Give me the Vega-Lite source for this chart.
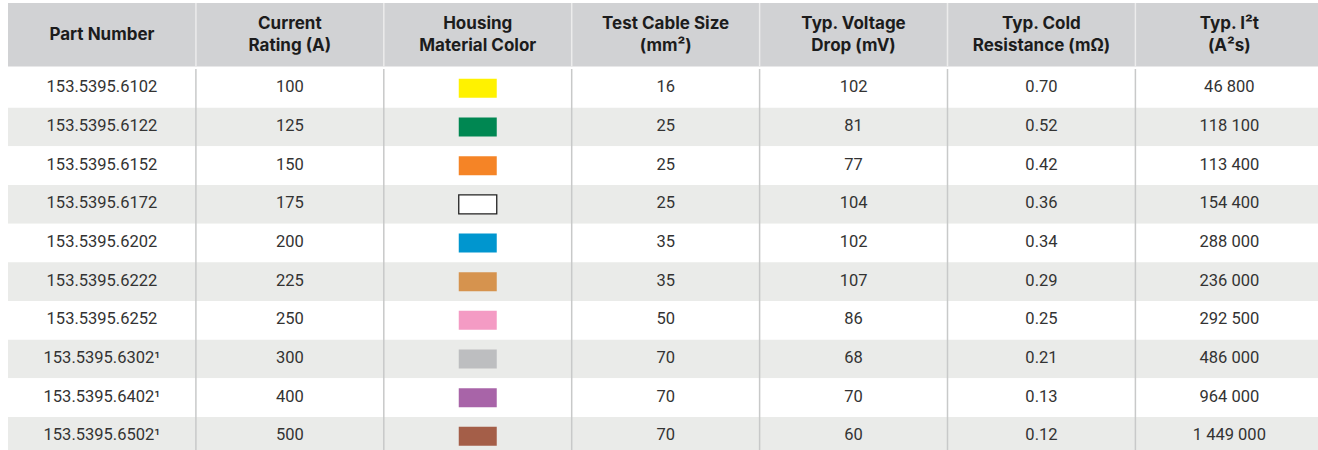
{
  "$schema": "https://vega.github.io/schema/vega-lite/v6.json",
  "padding": {"left": 8, "top": 2, "right": 0, "bottom": 0},
  "spacing": 0,
  "config": {"view": {"stroke": null}, "background": "#ffffff"},
  "datasets": {
    "cols": [
      {"key": "part", "title": "Part Number"},
      {"key": "current", "title": "Current\nRating (A)"},
      {"key": "color", "title": "Housing\nMaterial Color"},
      {"key": "cable", "title": "Test Cable Size\n(mm²)"},
      {"key": "drop", "title": "Typ. Voltage\nDrop (mV)"},
      {"key": "res", "title": "Typ. Cold\nResistance (mΩ)"},
      {"key": "i2t", "title": "Typ. I²t\n(A²s)"}
    ],
    "rows": [
      {"r": 1, "part": "153.5395.6102", "current": "100", "color": "Yellow", "cable": "16", "drop": "102", "res": "0.70", "i2t": "46 800"},
      {"r": 2, "part": "153.5395.6122", "current": "125", "color": "Green", "cable": "25", "drop": "81", "res": "0.52", "i2t": "118 100"},
      {"r": 3, "part": "153.5395.6152", "current": "150", "color": "Orange", "cable": "25", "drop": "77", "res": "0.42", "i2t": "113 400"},
      {"r": 4, "part": "153.5395.6172", "current": "175", "color": "White", "cable": "25", "drop": "104", "res": "0.36", "i2t": "154 400"},
      {"r": 5, "part": "153.5395.6202", "current": "200", "color": "Blue", "cable": "35", "drop": "102", "res": "0.34", "i2t": "288 000"},
      {"r": 6, "part": "153.5395.6222", "current": "225", "color": "Tan", "cable": "35", "drop": "107", "res": "0.29", "i2t": "236 000"},
      {"r": 7, "part": "153.5395.6252", "current": "250", "color": "Pink", "cable": "50", "drop": "86", "res": "0.25", "i2t": "292 500"},
      {"r": 8, "part": "153.5395.6302¹", "current": "300", "color": "Grey", "cable": "70", "drop": "68", "res": "0.21", "i2t": "486 000"},
      {"r": 9, "part": "153.5395.6402¹", "current": "400", "color": "Purple", "cable": "70", "drop": "70", "res": "0.13", "i2t": "964 000"},
      {"r": 10, "part": "153.5395.6502¹", "current": "500", "color": "Brown", "cable": "70", "drop": "60", "res": "0.12", "i2t": "1 449 000"}
    ]
  },
  "vconcat": [
    {
      "width": 1310,
      "height": 63.5,
      "view": {"fill": "#d1d2d4", "stroke": null},
      "data": {"name": "cols"},
      "layer": [
        {
          "transform": [{"filter": "datum.key != 'part'"}],
          "mark": {"type": "rule", "color": "#ececec", "strokeWidth": 1.5},
          "encoding": {
            "x": {"field": "key", "type": "nominal", "bandPosition": 0, "axis": null,
                  "scale": {"type": "band", "domain": ["part", "current", "color", "cable", "drop", "res", "i2t"], "range": [0, 1315.3], "paddingInner": 0, "paddingOuter": 0}}
          }
        },
        {
          "transform": [{"filter": "indexof(datum.title, '\\n') < 0"}],
          "mark": {"type": "text", "font": "Inter", "fontWeight": "bold", "fontSize": 17, "color": "#1c1c1c", "align": "center", "baseline": "middle", "dy": 0},
          "encoding": {
            "x": {"field": "key", "type": "nominal", "axis": null,
                  "scale": {"type": "band", "domain": ["part", "current", "color", "cable", "drop", "res", "i2t"], "range": [0, 1315.3], "paddingInner": 0, "paddingOuter": 0}},
            "text": {"field": "title", "type": "nominal"}
          }
        },
        {
          "transform": [{"filter": "indexof(datum.title, '\\n') >= 0"}],
          "mark": {"type": "text", "font": "Inter", "fontWeight": "bold", "fontSize": 17, "lineBreak": "\n", "lineHeight": 22, "color": "#1c1c1c", "align": "center", "baseline": "middle", "dy": -11},
          "encoding": {
            "x": {"field": "key", "type": "nominal", "axis": null,
                  "scale": {"type": "band", "domain": ["part", "current", "color", "cable", "drop", "res", "i2t"], "range": [0, 1315.3], "paddingInner": 0, "paddingOuter": 0}},
            "text": {"field": "title", "type": "nominal"}
          }
        }
      ]
    },
    {
      "width": 1310,
      "height": 384.5,
      "data": {"name": "rows"},
      "layer": [
        {
          "mark": {"type": "rect"},
          "encoding": {
            "y": {"field": "r", "type": "ordinal", "axis": null,
                  "scale": {"type": "band", "domain": [1, 2, 3, 4, 5, 6, 7, 8, 9, 10], "range": [0, 386.7], "paddingInner": 0, "paddingOuter": 0}},
            "color": {"condition": {"test": "datum.r % 2 == 0", "value": "#eaebe9"}, "value": "#ffffff"}
          }
        },
        {
          "data": {"name": "cols"},
          "transform": [{"filter": "datum.key != 'part'"}],
          "mark": {"type": "rule", "color": "#c8c9c9", "strokeWidth": 1.5},
          "encoding": {
            "x": {"field": "key", "type": "nominal", "bandPosition": 0, "axis": null,
                  "scale": {"type": "band", "domain": ["part", "current", "color", "cable", "drop", "res", "i2t"], "range": [0, 1315.3], "paddingInner": 0, "paddingOuter": 0}}
          }
        },
        {
          "transform": [{"fold": ["part", "current", "cable", "drop", "res", "i2t"], "as": ["key", "value"]}],
          "mark": {"type": "text", "font": "Roboto", "fontWeight": "normal", "fontSize": 16.5, "color": "#333333", "align": "center", "baseline": "middle", "dy": -1},
          "encoding": {
            "x": {"field": "key", "type": "nominal", "axis": null,
                  "scale": {"type": "band", "domain": ["part", "current", "color", "cable", "drop", "res", "i2t"], "range": [0, 1315.3], "paddingInner": 0, "paddingOuter": 0}},
            "y": {"field": "r", "type": "ordinal", "axis": null,
                  "scale": {"type": "band", "domain": [1, 2, 3, 4, 5, 6, 7, 8, 9, 10], "range": [0, 386.7], "paddingInner": 0, "paddingOuter": 0}},
            "text": {"field": "value", "type": "nominal"}
          }
        },
        {
          "mark": {"type": "point", "shape": "M-1,-0.5H1V0.5H-1Z", "size": 1444, "filled": true, "opacity": 1, "strokeWidth": 1.3},
          "encoding": {
            "x": {"datum": "color", "type": "nominal", "axis": null,
                  "scale": {"type": "band", "domain": ["part", "current", "color", "cable", "drop", "res", "i2t"], "range": [0, 1315.3], "paddingInner": 0, "paddingOuter": 0}},
            "y": {"field": "r", "type": "ordinal", "axis": null,
                  "scale": {"type": "band", "domain": [1, 2, 3, 4, 5, 6, 7, 8, 9, 10], "range": [0, 386.7], "paddingInner": 0, "paddingOuter": 0}},
            "fill": {"field": "color", "type": "nominal", "legend": null,
                     "scale": {"domain": ["Yellow", "Green", "Orange", "White", "Blue", "Tan", "Pink", "Grey", "Purple", "Brown"],
                               "range": ["#fff200", "#008752", "#f58426", "#ffffff", "#0096cf", "#d6934e", "#f49bc4", "#bdbec0", "#a864a8", "#a45e48"]}},
            "stroke": {"condition": {"test": "datum.color == 'White'", "value": "#222222"}, "value": "transparent"}
          }
        }
      ]
    }
  ]
}
